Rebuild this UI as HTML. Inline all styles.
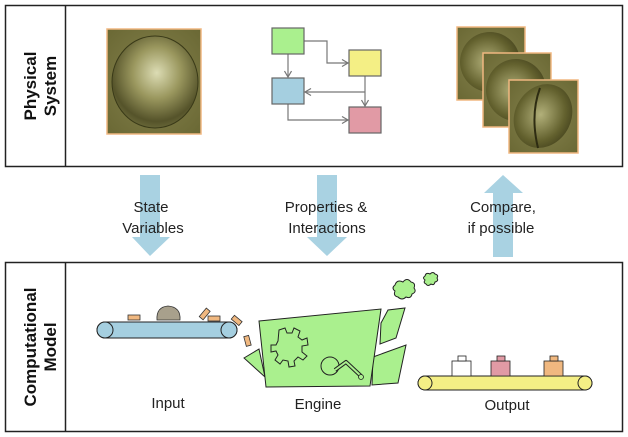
<!DOCTYPE html>
<html><head><meta charset="utf-8"><style>
html,body{margin:0;padding:0;background:#fff;}
svg{display:block;}
text{font-family:"Liberation Sans",sans-serif;}
</style></head><body>
<svg width="628" height="437" viewBox="0 0 628 437" xmlns="http://www.w3.org/2000/svg">
<defs>
<radialGradient id="egg" cx="0.52" cy="0.4" r="0.62">
<stop offset="0" stop-color="#dcdcb4"/><stop offset="0.45" stop-color="#9a975e"/><stop offset="0.85" stop-color="#55532a"/><stop offset="1" stop-color="#6b6a3a"/>
</radialGradient>
<radialGradient id="bg" cx="0.5" cy="0.5" r="0.7">
<stop offset="0" stop-color="#86834e"/><stop offset="1" stop-color="#6a6834"/>
</radialGradient>
<radialGradient id="egg2" cx="0.45" cy="0.5" r="0.6">
<stop offset="0" stop-color="#b2b07a"/><stop offset="0.7" stop-color="#63612e"/><stop offset="1" stop-color="#46441e"/>
</radialGradient>
<marker id="ah" markerWidth="8" markerHeight="8" refX="7" refY="4" orient="auto" markerUnits="userSpaceOnUse">
<path d="M1,0.5 L7,4 L1,7.5" fill="none" stroke="#777" stroke-width="1.2"/>
</marker>
</defs>

<rect x="5.5" y="5.5" width="617" height="161" fill="none" stroke="#222" stroke-width="1.5"/>
<line x1="65.5" y1="5" x2="65.5" y2="167" stroke="#222" stroke-width="1.5"/>
<text transform="translate(36,86) rotate(-90)" text-anchor="middle" font-size="17" font-weight="bold" fill="#111">Physical</text>
<text transform="translate(56,86) rotate(-90)" text-anchor="middle" font-size="17" font-weight="bold" fill="#111">System</text>

<rect x="107" y="29" width="94" height="105" fill="url(#bg)" stroke="#f0b780" stroke-width="1.5"/>
<ellipse cx="155" cy="82" rx="43" ry="46" fill="url(#egg)" stroke="#3a3a18" stroke-width="1"/>

<g stroke="#777" stroke-width="1.2" fill="none">
<path d="M304,41 H327 V63 H348" marker-end="url(#ah)"/>
<path d="M288,54 V77" marker-end="url(#ah)"/>
<path d="M365,76 V106" marker-end="url(#ah)"/>
<path d="M365,92 H305" marker-end="url(#ah)"/>
<path d="M288,104 V120 H348" marker-end="url(#ah)"/>
</g>
<rect x="272" y="28" width="32" height="26" fill="#aaf08e" stroke="#666" stroke-width="1.2"/>
<rect x="349" y="50" width="32" height="26" fill="#f4ef85" stroke="#666" stroke-width="1.2"/>
<rect x="272" y="78" width="32" height="26" fill="#a5cfe0" stroke="#666" stroke-width="1.2"/>
<rect x="349" y="107" width="32" height="26" fill="#e19aa5" stroke="#666" stroke-width="1.2"/>

<g stroke="#f0b780" stroke-width="1.5">
<rect x="457" y="27" width="68" height="73" fill="url(#bg)"/>
<ellipse cx="490" cy="62" rx="30" ry="30" fill="url(#egg2)" stroke="none"/>
<rect x="483" y="53" width="68" height="74" fill="url(#bg)"/>
<ellipse cx="516" cy="90" rx="30" ry="31" fill="url(#egg2)" stroke="none"/>
<rect x="509" y="80" width="69" height="73" fill="url(#bg)"/>
<ellipse cx="543" cy="116" rx="28" ry="33" transform="rotate(30 543 116)" fill="url(#egg2)" stroke="none"/>
<path d="M540,88 Q530,115 538,148" fill="none" stroke="#2e2c12" stroke-width="2"/>
</g>

<g fill="#a9d2e2">
<path d="M140,175 H160 V237 H170 L150,256 L132,237 H140 Z"/>
<path d="M317,175 H337 V237 H347 L327,256 L307,237 H317 Z"/>
<path d="M493,257 H513 V193 H523 L503,175 L484,193 H493 Z"/>
</g>
<g font-size="15" fill="#222" text-anchor="middle">
<text x="151" y="212">State</text>
<text x="153" y="233">Variables</text>
<text x="326" y="212">Properties &amp;</text>
<text x="327" y="233">Interactions</text>
<text x="503" y="212">Compare,</text>
<text x="501" y="233">if possible</text>
</g>

<rect x="5.5" y="262.5" width="617" height="169" fill="none" stroke="#222" stroke-width="1.5"/>
<line x1="65.5" y1="262" x2="65.5" y2="432" stroke="#222" stroke-width="1.5"/>
<text transform="translate(36,347) rotate(-90)" text-anchor="middle" font-size="17" font-weight="bold" fill="#111">Computational</text>
<text transform="translate(56,347) rotate(-90)" text-anchor="middle" font-size="17" font-weight="bold" fill="#111">Model</text>

<rect x="97" y="322" width="140" height="16" rx="8" fill="#a5cfe0" stroke="#222" stroke-width="1"/>
<ellipse cx="105" cy="330" rx="8" ry="8" fill="#a5cfe0" stroke="#222" stroke-width="1"/>
<ellipse cx="229" cy="330" rx="8" ry="8" fill="#a5cfe0" stroke="#222" stroke-width="1"/>
<g fill="#f0b880" stroke="#333" stroke-width="0.8">
<rect x="128" y="315" width="12" height="5"/>
<rect x="208" y="316" width="12" height="5"/>
<rect x="199" y="312" width="11" height="5" transform="rotate(-50 204 314)"/>
<rect x="232" y="318" width="10" height="5" transform="rotate(40 237 320)"/>
<rect x="245" y="336" width="5" height="10" transform="rotate(-15 247 341)"/>
</g>
<path d="M157,320 Q156,307 168,306 Q181,307 180,320 Z" fill="#a8a08c" stroke="#333" stroke-width="0.8"/>
<text x="168" y="408" font-size="15" fill="#222" text-anchor="middle">Input</text>

<g fill="#aaf08e" stroke="#222" stroke-width="1">
<polygon points="244,358 259,349 265,377"/>
<polygon points="381,323 388,310 405,308 396,338 380,344"/>
<polygon points="373,357 406,345 398,383 372,385"/>
<polygon points="259,321 381,309 370,386 266,387"/>
</g>
<path d="M279,330 l6,-2 l2,5 l5,0 l2,-5 l6,3 l-2,6 l4,3 l5,-2 l1,7 l-6,1 l0,6 l5,4 l-4,4 l-5,-3 l-4,4 l1,5 l-6,1 l-1,-6 l-5,-1 l-3,4 l-5,-4 l3,-5 l-2,-4 l-5,1 l0,-7 l5,0 l2,-4 z" fill="none" stroke="#222" stroke-width="1"/>
<circle cx="330" cy="366" r="9" fill="none" stroke="#222" stroke-width="1"/>
<path d="M335,370 L346,362 L361,376" fill="none" stroke="#222" stroke-width="4" stroke-linejoin="round"/>
<path d="M335,370 L346,362 L361,376" fill="none" stroke="#aaf08e" stroke-width="2" stroke-linejoin="round"/>
<circle cx="361" cy="377" r="2.5" fill="#aaf08e" stroke="#222" stroke-width="0.8"/>
<g fill="#aaf08e" stroke="#222" stroke-width="1">
<path d="M395,285 q2,-6 8,-3 q4,-5 8,0 q5,1 3,6 q3,4 -2,6 q-1,5 -6,3 q-4,4 -8,0 q-5,-1 -3,-6 q-4,-3 0,-6z"/>
<path d="M425,276 q1,-4 5,-2 q3,-3 5,0 q4,1 2,4 q2,3 -2,4 q-1,4 -4,2 q-3,3 -5,0 q-3,-1 -1,-4 q-3,-2 0,-4z"/>
</g>
<text x="318" y="409" font-size="15" fill="#222" text-anchor="middle">Engine</text>

<rect x="418" y="376" width="174" height="14" rx="7" fill="#f4ef85" stroke="#222" stroke-width="1"/>
<ellipse cx="425" cy="383" rx="7" ry="7" fill="#f4ef85" stroke="#222" stroke-width="1"/>
<ellipse cx="585" cy="383" rx="7" ry="7" fill="#f4ef85" stroke="#222" stroke-width="1"/>
<g stroke="#222" stroke-width="0.8">
<rect x="452" y="361" width="19" height="15" fill="#fff"/>
<rect x="458" y="356" width="8" height="5" fill="#fff"/>
<rect x="491" y="361" width="19" height="15" fill="#e19aa5"/>
<rect x="497" y="356" width="8" height="5" fill="#e19aa5"/>
<rect x="544" y="361" width="19" height="15" fill="#f0b880"/>
<rect x="550" y="356" width="8" height="5" fill="#f0b880"/>
</g>
<text x="507" y="410" font-size="15" fill="#222" text-anchor="middle">Output</text>
</svg>
</body></html>
